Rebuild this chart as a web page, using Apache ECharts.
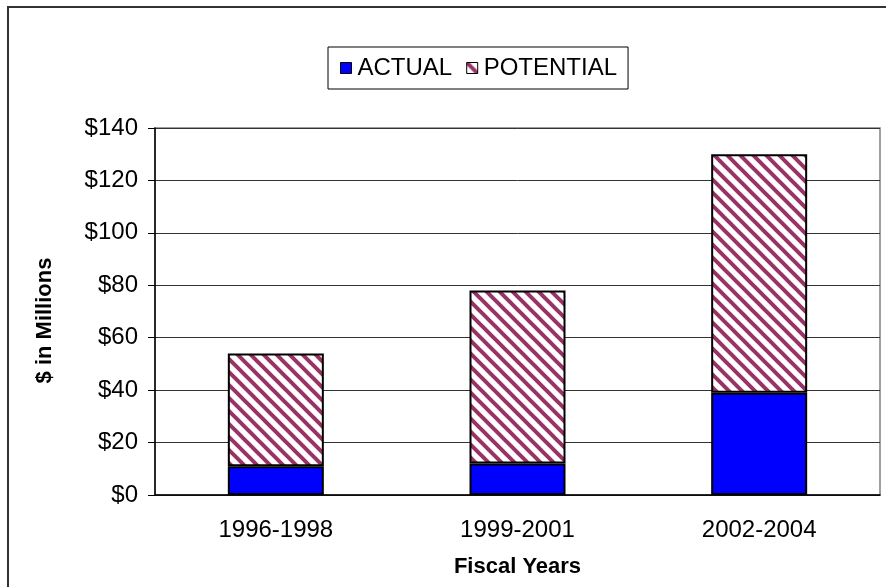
<!DOCTYPE html>
<html>
<head>
<meta charset="utf-8">
<script src="https://cdn.jsdelivr.net/npm/echarts@6/dist/echarts.min.js"></script>
<style>
  html, body { margin: 0; padding: 0; background: #fff; }
  #chart { width: 886px; height: 587px; }
</style>
</head>
<body>
<div id="chart"></div>
<script>
// Fiscal-year periods and funding amounts ($ millions)
const periods = ['1996-1998', '1999-2001', '2002-2004'];
const actual = [11, 12, 39];
const potential = [43, 66, 91]; // additional potential stacked on top of actual
const yTicks = [0, 20, 40, 60, 80, 100, 120, 140];

// Diagonal hatch tile for the POTENTIAL segments
function hatchTile() {
  const size = 13;
  const c = document.createElement('canvas');
  c.width = size; c.height = size;
  const g = c.getContext('2d');
  g.fillStyle = '#ffffff';
  g.fillRect(0, 0, size, size);
  g.strokeStyle = '#993366';
  g.lineWidth = 4;
  g.lineCap = 'square';
  for (const off of [-size, 0, size]) {
    g.beginPath();
    g.moveTo(off - 2, -2);
    g.lineTo(off + size + 2, size + 2);
    g.stroke();
  }
  return c;
}

const chart = echarts.init(document.getElementById('chart'), null, { renderer: 'canvas' });
const font = 'Arial, "Liberation Sans", sans-serif';

chart.setOption({
  animation: false,
  backgroundColor: '#ffffff',
  graphic: [{
    type: 'rect',
    shape: { x: 8, y: 7, width: 920, height: 620 },
    style: { fill: 'none', stroke: '#333333', lineWidth: 2 },
    z: -1
  }],
  legend: {
    left: 328,
    top: 47,
    padding: [9, 11, 9, 12],
    borderColor: '#000000',
    borderWidth: 1,
    itemWidth: 11,
    itemHeight: 11,
    itemGap: 14,
    icon: 'rect',
    itemStyle: { borderWidth: 1, borderColor: '#000000' },
    textStyle: { fontFamily: font, fontSize: 24, color: '#000000', padding: [0, 0, 0, 1] },
    data: ['ACTUAL', 'POTENTIAL']
  },
  grid: {
    left: 155, right: 6, top: 128, bottom: 92,
    show: true, borderColor: '#808080', borderWidth: 1.5
  },
  xAxis: {
    type: 'category',
    data: periods,
    axisLine: { lineStyle: { color: '#000000', width: 1.5 } },
    axisTick: { show: false },
    axisLabel: { fontFamily: font, fontSize: 24, color: '#000000', margin: 23 },
    name: 'Fiscal Years',
    nameLocation: 'middle',
    nameGap: 61,
    nameTextStyle: { fontFamily: font, fontSize: 22, fontWeight: 'bold', color: '#000000' }
  },
  yAxis: {
    type: 'value',
    min: yTicks[0],
    max: yTicks[yTicks.length - 1],
    interval: yTicks[1] - yTicks[0],
    axisLine: { show: true, lineStyle: { color: '#000000', width: 1.5 } },
    axisTick: { show: true, length: 7, lineStyle: { color: '#000000' } },
    splitLine: { lineStyle: { color: '#333333', width: 1 } },
    axisLabel: { fontFamily: font, fontSize: 24, color: '#000000', margin: 17, formatter: v => '$' + v },
    name: '$ in Millions',
    nameLocation: 'middle',
    nameGap: 99,
    nameTextStyle: { fontFamily: font, fontSize: 22, fontWeight: 'bold', color: '#000000', padding: [0, 18, 0, 0] }
  },
  series: [
    {
      name: 'ACTUAL',
      type: 'bar',
      stack: 'total',
      barWidth: 96,
      data: actual,
      itemStyle: { color: '#0000ff', borderColor: '#000000', borderWidth: 2 }
    },
    {
      name: 'POTENTIAL',
      type: 'bar',
      stack: 'total',
      barWidth: 96,
      data: potential,
      itemStyle: { color: { image: hatchTile(), repeat: 'repeat' }, borderColor: '#000000', borderWidth: 2 }
    }
  ]
});
</script>
</body>
</html>
